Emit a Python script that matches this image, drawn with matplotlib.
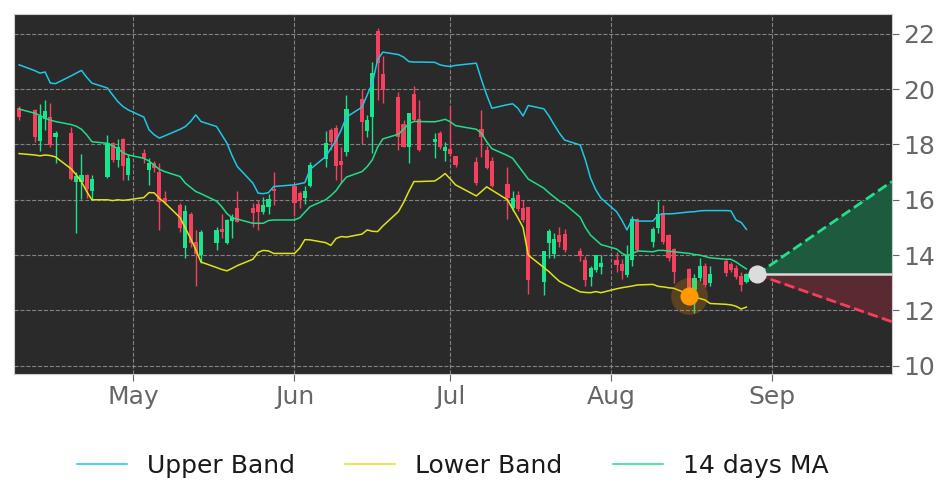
import pandas as pd
import numpy as np
import matplotlib
matplotlib.use('Agg')
import matplotlib.pyplot as plt
import matplotlib.dates as mdates

# trading days Apr 9 - Aug 27 2021 (no Memorial Day / Jul 5)
dates = pd.bdate_range('2021-04-09', '2021-08-27')
dates = dates[~dates.isin(pd.to_datetime(['2021-05-31', '2021-07-05']))]

opens = [19.3, 19.23, 18.14, 18.91, 18.99, 18.26, 18.41, 16.65, 16.65, 16.86,
         16.33, 16.84, 18.02, 17.44, 18.19, 16.9, 17.66, 17.08, 17.32, 16.98,
         16.06, 15.78, 14.25, 15.45, 14.45, 14.0, 14.45, 14.91, 14.45, 15.24,
         15.69, 15.69, 15.81, 15.54, 15.75, 16.36, 16.48, 16.24, 16.06, 16.5,
         17.47, 18.5, 18.59, 17.38, 17.74, 19.61, 18.47, 18.99, 22.08, 20.52,
         19.71, 18.71, 17.92, 19.79, 18.89, 18.1, 18.38, 17.78, 17.8, 17.56,
         17.34, 18.55, 17.78, 17.38, 16.54, 15.69, 16.14, 15.69, 15.73, 13.04,
         14.43, 14.04, 14.69, 14.73, 14.12, 13.82, 13.22, 13.46, 13.56, 13.79,
         13.64, 13.28, 13.82, 15.27, 14.49, 14.97, 15.5, 14.69, 14.19, 13.46,
         12.74, 13.16, 13.6, 12.98, 13.76, 13.64, 13.52, 13.24, 13.04]
highs = [19.4, 19.3, 19.47, 19.61, 19.51, 18.47, 18.62, 17.0, 17.66, 16.95,
         16.9, 18.35, 18.1, 18.2, 18.22, 17.65, 17.83, 17.5, 17.4, 17.32,
         16.3, 15.9, 15.8, 15.55, 14.9, 14.9, 15.0, 15.5, 15.3, 15.5,
         16.3, 15.9, 16.0, 16.1, 16.2, 17.0, 16.5, 16.3, 16.5, 17.35,
         18.5, 18.6, 18.7, 17.9, 19.8, 20.0, 19.07, 21.0, 22.2, 21.2,
         19.9, 18.9, 19.1, 20.1, 19.6, 18.4, 18.5, 18.1, 19.4, 17.6,
         17.55, 19.25, 17.95, 17.55, 17.2, 16.3, 16.3, 16.0, 15.75, 14.15,
         14.95, 14.8, 15.0, 14.95, 14.25, 13.95, 13.6, 14.0, 14.0, 14.1,
         13.85, 14.37, 15.4, 15.35, 15.0, 15.95, 15.8, 14.75, 14.25, 13.55,
         13.3, 13.9, 13.7, 13.6, 13.85, 13.75, 13.65, 13.4, 13.35]
lows = [18.9, 18.1, 17.78, 18.53, 17.9, 17.34, 16.72, 14.8, 16.03, 16.05,
        16.0, 16.78, 17.35, 17.2, 16.7, 16.7, 17.32, 16.54, 17.0, 14.91,
        15.85, 14.85, 13.9, 14.3, 12.88, 13.7, 14.2, 14.6, 14.4, 14.6,
        15.2, 15.0, 14.9, 15.5, 15.5, 15.8, 15.4, 15.7, 15.85, 16.45,
        17.2, 17.8, 16.7, 16.6, 17.6, 18.0, 18.28, 17.68, 19.6, 19.5,
        17.8, 17.9, 17.34, 18.85, 17.75, 17.5, 17.85, 17.4, 17.6, 17.2,
        16.55, 17.56, 17.1, 16.45, 15.3, 15.6, 15.6, 15.2, 12.6, 12.55,
        13.9, 13.9, 14.3, 14.1, 13.8, 12.9, 12.9, 13.4, 13.3, 13.4,
        13.15, 13.2, 13.6, 14.1, 14.3, 14.8, 14.4, 13.8, 13.0, 12.6,
        11.9, 13.05, 12.85, 12.9, 13.25, 13.4, 13.15, 12.7, 13.0]
closes = [19.0, 18.26, 19.01, 19.18, 17.98, 18.41, 16.74, 16.85, 16.86, 16.38,
          16.74, 18.02, 17.44, 17.9, 17.22, 17.5, 17.5, 17.32, 17.14, 15.93,
          15.93, 14.97, 15.57, 14.43, 14.04, 14.81, 14.88, 14.85, 15.24, 15.37,
          15.21, 15.51, 15.57, 15.78, 16.01, 16.3, 15.88, 16.0, 16.3, 17.22,
          18.02, 18.1, 17.22, 17.26, 19.25, 18.83, 18.86, 20.55, 20.94, 19.97,
          18.26, 17.92, 19.1, 18.89, 17.8, 18.16, 17.92, 17.89, 17.66, 17.26,
          16.62, 18.26, 17.14, 16.5, 16.06, 16.06, 15.66, 15.27, 13.1, 14.12,
          14.85, 14.57, 14.49, 14.19, 13.97, 13.1, 13.52, 14.0, 13.68, 13.64,
          13.44, 14.0, 15.27, 14.19, 14.91, 15.45, 14.49, 13.88, 13.4, 12.73,
          13.16, 13.6, 12.92, 13.28, 13.34, 13.46, 13.22, 12.92, 13.28]

upper_band = [20.88, 20.67, 20.58, 20.62, 20.22, 20.2, 20.48, 20.58, 20.68, 20.43,
              20.22, 20.04, 19.79, 19.55, 19.37, 19.25, 18.99, 18.53, 18.35, 18.23,
              18.31, 18.55, 18.65, 18.83, 19.07, 18.83, 18.65, 18.35, 18.05, 17.59,
              17.2, 16.6, 16.24, 16.22, 16.26, 16.48, 16.54, 16.58, 16.62, 17.1,
              17.56, 17.86, 18.14, 18.53, 18.99, 19.35, 19.79, 20.22, 21.06, 21.34,
              21.25, 21.16, 21.0, 20.98, 20.98, 20.97, 20.88, 20.84, 20.82, 20.86,
              20.94, 20.34, 19.79, 19.31, 19.44, 19.47, 19.31, 19.03, 19.41, 19.29,
              19.03, 18.71, 18.41, 18.16, 17.98, 17.44, 16.78, 16.36, 16.06, 15.57,
              15.27, 14.91, 15.3, 15.23, 15.23, 15.45, 15.49, 15.49, 15.5, 15.56,
              15.57, 15.6, 15.61, 15.61, 15.61, 15.6, 15.27, 15.18, 14.93]
ma14 = [19.28, 19.13, 19.05, 18.95, 18.88, 18.83, 18.72, 18.66, 18.55, 18.35,
        18.1, 18.04, 17.95, 17.85, 17.7, 17.62, 17.5, 17.4, 17.25, 17.1,
        17.02, 16.84, 16.6, 16.45, 16.3, 16.22, 15.95, 15.75, 15.5, 15.35,
        15.3, 15.15, 15.15, 15.15, 15.25, 15.27, 15.27, 15.35, 15.55, 15.75,
        16.0, 16.15, 16.33, 16.6, 16.82, 17.02, 17.2, 17.45, 17.9, 18.2,
        18.37, 18.55, 18.75, 18.83, 18.83, 18.82, 18.86, 18.91, 18.82, 18.68,
        18.55, 18.4, 18.1, 17.85, 17.6, 17.5, 17.25, 17.0, 16.75, 16.42,
        16.25, 16.1, 15.95, 15.85, 15.37, 15.0, 14.72, 14.55, 14.38, 14.22,
        14.07, 13.98, 14.04, 14.15, 14.12, 14.17, 14.17, 14.14, 14.12, 14.06,
        14.02, 14.0, 13.95, 13.9, 13.85, 13.85, 13.75, 13.62, 13.5]
lower_band = [17.67, 17.62, 17.59, 17.62, 17.6, 17.55, 17.12, 16.9, 16.65, 16.3,
              16.0, 16.0, 15.97, 16.0, 15.98, 16.0, 16.08, 16.26, 16.25, 16.05,
              15.9, 15.35, 14.97, 14.6, 14.2, 13.75, 13.55, 13.48, 13.43, 13.52,
              13.62, 13.85, 14.1, 14.17, 14.15, 14.06, 14.06, 14.25, 14.56, 14.55,
              14.45, 14.35, 14.6, 14.67, 14.65, 14.76, 14.91, 14.86, 14.85, 15.05,
              15.57, 15.9, 16.3, 16.66, 16.66, 16.68, 16.8, 16.95, 16.75, 16.54,
              16.14, 16.3, 16.47, 16.35, 16.0, 15.67, 15.35, 15.0, 14.0, 13.55,
              13.4, 13.22, 13.05, 12.95, 12.67, 12.65, 12.64, 12.68, 12.64, 12.78,
              12.82, 12.85, 12.88, 12.92, 12.94, 12.87, 12.85, 12.82, 12.8, 12.58,
              12.5, 12.43, 12.38, 12.25, 12.22, 12.2, 12.15, 12.05, 12.12]

signal_date = pd.Timestamp('2021-08-16')
signal_price = 12.52
last_date = pd.Timestamp('2021-08-29')
last_price = 13.3
proj_end = pd.Timestamp('2021-09-24')
proj_high = 16.66
proj_low = 11.59

up_col = '#19e68c'
down_col = '#f7405e'

fig = plt.figure(figsize=(9.43, 4.98), dpi=100)
ax = fig.add_axes([0.0148, 0.249, 0.931, 0.723])
ax.set_facecolor('#2a2a2a')

# candles
o = np.array(opens)
c = np.array(closes)
cols = [up_col if cc >= oo else down_col for oo, cc in zip(o, c)]
ax.vlines(dates, lows, highs, colors=cols, linewidth=1, zorder=3)
ax.bar(dates, np.abs(c - o) + 0.02, bottom=np.minimum(o, c), width=0.8,
       color=cols, zorder=4)

ax.plot(dates, upper_band, color='#1fc8e3', lw=1.1, label='Upper Band', zorder=5)
ax.plot(dates, lower_band, color='#e0e21a', lw=1.1, label='Lower Band', zorder=5)
ax.plot(dates, ma14, color='#22dd88', lw=1.1, label='14 days MA', zorder=5)

# signal
ax.scatter([signal_date], [signal_price], s=700, color='#ff9900', alpha=0.22, zorder=6, lw=0)
ax.scatter([signal_date], [signal_price], s=170, color='#ff9900', zorder=7, lw=0)

# projection cone
ax.plot([last_date, proj_end], [last_price, last_price], color='#d8d8d8', lw=1.8, zorder=5)
ax.plot([last_date, proj_end], [last_price, proj_high], color='#1fe08c', lw=2, ls='--', zorder=5)
ax.plot([last_date, proj_end], [last_price, proj_low], color='#f2405c', lw=2, ls='--', zorder=5)
ax.fill_between([last_date, proj_end], [last_price, last_price], [last_price, proj_high],
                color='#1e5a3e', zorder=2)
ax.fill_between([last_date, proj_end], [last_price, last_price], [last_price, proj_low],
                color='#5a2a33', zorder=2)
ax.scatter([last_date], [last_price], s=170, color='#dcdcdc', zorder=8, lw=0)

ax.set_xlim(pd.Timestamp('2021-04-08'), proj_end)
ax.set_ylim(9.7, 22.72)
ax.xaxis.set_major_locator(mdates.MonthLocator())
ax.xaxis.set_major_formatter(mdates.DateFormatter('%b'))
ax.set_yticks([10, 12, 14, 16, 18, 20, 22])
ax.yaxis.tick_right()
ax.tick_params(axis='both', colors='#666666', labelsize=18, length=5)
ax.tick_params(axis='x', pad=3)
ax.tick_params(axis='y', pad=3)
ax.grid(True, color='#9a9a9a', ls='--', lw=0.8, alpha=0.8)
for s in ax.spines.values():
    s.set_color('#cccccc')

leg = ax.legend(loc='upper center', bbox_to_anchor=(0.5, -0.16), ncol=3, frameon=False,
                fontsize=18, handlelength=2.0, columnspacing=2.0)
for t in leg.get_texts():
    t.set_color('#1a1a1a')

fig.savefig('out.png', dpi=100)
